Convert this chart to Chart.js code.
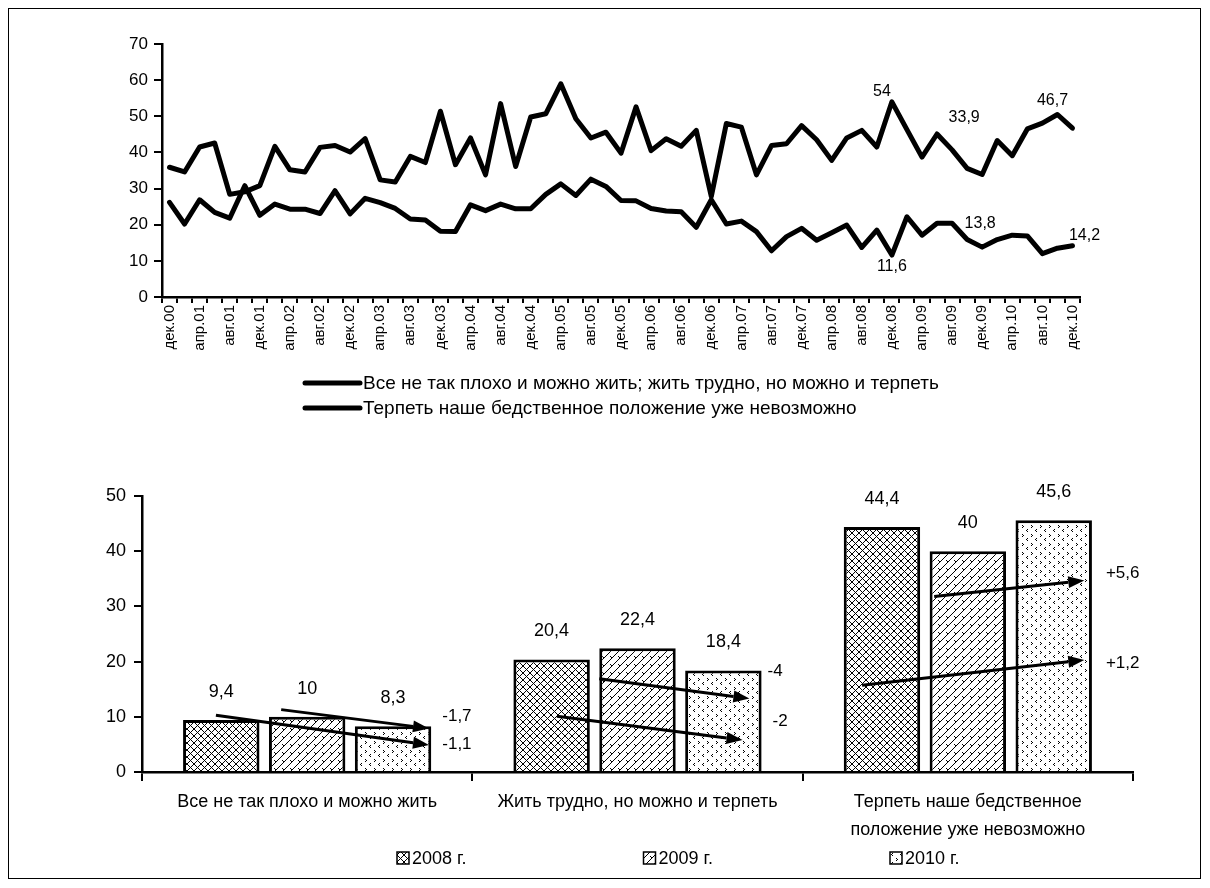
<!DOCTYPE html>
<html>
<head>
<meta charset="utf-8">
<script src="https://cdn.jsdelivr.net/npm/chart.js@4.4.0/dist/chart.umd.min.js"></script>
<style>
    body { margin: 0; background: #fff; }
    #page { position: relative; width: 1210px; height: 888px; background: #fff; }
    #frame { position: absolute; left: 8px; top: 8px; width: 1191px; height: 869px; border: 1px solid #000; }
    #lineBox { position: absolute; left: 80px; top: 26px; width: 1040px; height: 400px; }
    #barBox { position: absolute; left: 40px; top: 470px; width: 1140px; height: 408px; }
</style>
</head>
<body>
<div id="page">
    <div id="frame"></div>
    <div id="lineBox"><canvas id="lineChart"></canvas></div>
    <div id="barBox"><canvas id="barChart"></canvas></div>
</div>
<script>
const FONT = "'Liberation Sans', Arial, sans-serif";
const NARROW = "'Liberation Sans Narrow', 'Liberation Sans', Arial, sans-serif";

// --- top chart: survey every two months, Dec 2000 .. Dec 2010
const months = [
    "дек.00", "фев.01", "апр.01", "июн.01", "авг.01", "окт.01",
    "дек.01", "фев.02", "апр.02", "июн.02", "авг.02", "окт.02",
    "дек.02", "фев.03", "апр.03", "июн.03", "авг.03", "окт.03",
    "дек.03", "фев.04", "апр.04", "июн.04", "авг.04", "окт.04",
    "дек.04", "фев.05", "апр.05", "июн.05", "авг.05", "окт.05",
    "дек.05", "фев.06", "апр.06", "июн.06", "авг.06", "окт.06",
    "дек.06", "фев.07", "апр.07", "июн.07", "авг.07", "окт.07",
    "дек.07", "фев.08", "апр.08", "июн.08", "авг.08", "окт.08",
    "дек.08", "фев.09", "апр.09", "июн.09", "авг.09", "окт.09",
    "дек.09", "фев.10", "апр.10", "июн.10", "авг.10", "окт.10",
    "дек.10"
];

const canLive = [
    35.9, 34.6, 41.5, 42.6, 28.4, 29.1, 30.8, 41.7, 35.2, 34.6,
    41.4, 41.9, 40.1, 43.8, 32.4, 31.8, 38.9, 37.2, 51.4, 36.6,
    44.0, 33.8, 53.5, 36.1, 49.8, 50.7, 59.0, 49.3, 44.0, 45.6,
    39.8, 52.6, 40.5, 43.8, 41.7, 46.1, 27.8, 48.0, 47.0, 33.8,
    41.9, 42.4, 47.4, 43.5, 37.8, 44.0, 46.1, 41.5, 54.0, 46.3,
    38.7, 45.1, 40.7, 35.6, 33.9, 43.3, 39.1, 46.5, 48.1, 50.5,
    46.7
];

const cannotBear = [
    26.2, 20.2, 26.9, 23.4, 21.8, 30.8, 22.6, 25.7, 24.3, 24.3,
    23.1, 29.4, 23.0, 27.3, 26.1, 24.5, 21.6, 21.3, 18.2, 18.1,
    25.5, 23.9, 25.7, 24.4, 24.4, 28.4, 31.3, 28.1, 32.6, 30.6,
    26.7, 26.6, 24.5, 23.8, 23.6, 19.3, 26.9, 20.2, 21.0, 18.1,
    12.8, 16.7, 19.0, 15.7, 17.8, 19.9, 13.7, 18.5, 11.6, 22.2,
    17.1, 20.4, 20.4, 15.9, 13.8, 15.9, 17.1, 16.9, 12.0, 13.5,
    14.2
];

const lineNames = [
    "Все не так плохо и можно жить; жить трудно, но можно и терпеть",
    "Терпеть наше бедственное положение уже невозможно"
];

// --- bottom chart
const groups = [
    "Все не так плохо и можно жить",
    "Жить трудно, но можно и терпеть",
    ["Терпеть наше бедственное", "положение уже невозможно"]
];
const years = ["2008 г.", "2009 г.", "2010 г."];
const bars2008 = [9.4, 20.4, 44.4];
const bars2009 = [10, 22.4, 40];
const bars2010 = [8.3, 18.4, 45.6];

function fmt(v) {
    return String(Math.round(v * 10) / 10).replace(".", ",");
}

function signed(v) {
    const r = Math.round(v * 10) / 10;
    return (r > 0 ? "+" : "") + fmt(r);
}

// where the value callouts of the line chart sit (px offset from the point)
const lineCallouts = [
    { series: 0, index: 48, dx: -10, dy: -10 },
    { series: 1, index: 48, dx: 0, dy: 12 },
    { series: 0, index: 54, dx: -18, dy: -57 },
    { series: 1, index: 54, dx: -2, dy: -24 },
    { series: 0, index: 60, dx: -20, dy: -28 },
    { series: 1, index: 60, dx: 12, dy: -10 }
];

const lineExtras = {
    id: "lineExtras",
    afterDraw(chart) {
        const ctx = chart.ctx;
        const a = chart.chartArea;
        ctx.save();
        ctx.fillStyle = "#000";
        ctx.strokeStyle = "#000";
        ctx.font = "16px " + FONT;
        ctx.textAlign = "center";
        ctx.textBaseline = "middle";
        lineCallouts.forEach(c => {
            const pt = chart.getDatasetMeta(c.series).data[c.index];
            const v = chart.data.datasets[c.series].data[c.index];
            ctx.fillText(fmt(v), pt.x + c.dx, pt.y + c.dy);
        });

        ctx.textAlign = "left";
        ctx.font = "19px " + FONT;
        chart.data.datasets.forEach((ds, i) => {
            const y = a.bottom + 86 + i * 25;
            ctx.lineWidth = 5;
            ctx.lineCap = "round";
            ctx.beginPath();
            ctx.moveTo(a.left + 143, y);
            ctx.lineTo(a.left + 198, y);
            ctx.stroke();
            ctx.fillText(ds.label, a.left + 201, y + 1);
        });
        ctx.restore();
    }
};

new Chart(document.getElementById("lineChart"), {
    type: "line",
    data: {
        labels: months,
        datasets: [
            { label: lineNames[0], data: canLive },
            { label: lineNames[1], data: cannotBear }
        ]
    },
    options: {
        responsive: true,
        maintainAspectRatio: false,
        animation: false,
        layout: { padding: { top: 18, right: 40, bottom: 54, left: 0 } },
        elements: {
            line: { borderColor: "#000", borderWidth: 5, tension: 0, borderJoinStyle: "round", borderCapStyle: "round" },
            point: { radius: 0 }
        },
        plugins: { legend: { display: false }, tooltip: { enabled: false } },
        scales: {
            x: {
                offset: true,
                grid: { offset: true, drawOnChartArea: false, tickLength: 6, color: "#000", lineWidth: 2 },
                border: { color: "#000", width: 2.5 },
                ticks: {
                    autoSkip: false, minRotation: 90, maxRotation: 90, padding: 2,
                    color: "#000", font: { family: FONT, size: 15 },
                    callback: (v, i) => (i % 2 === 0 ? months[i] : "")
                },
                afterFit: s => { s.height = 75; }
            },
            y: {
                min: 0,
                max: 70,
                ticks: { stepSize: 10, color: "#000", font: { family: FONT, size: 17 }, padding: 6 },
                grid: { drawOnChartArea: false, tickLength: 8, color: "#000", lineWidth: 2 },
                border: { color: "#000", width: 2.5 },
                afterFit: s => { s.width = 82; }
            }
        }
    },
    plugins: [lineExtras]
});

// --- hatch fills for the bars
function makeTile(size, draw) {
    const c = document.createElement("canvas");
    c.width = size;
    c.height = size;
    const t = c.getContext("2d");
    t.fillStyle = "#fff";
    t.fillRect(0, 0, size, size);
    t.strokeStyle = "#000";
    t.fillStyle = "#000";
    t.lineWidth = 1;
    draw(t, size);
    return document.createElement("canvas").getContext("2d").createPattern(c, "repeat");
}

const crossFill = makeTile(7, (t, s) => {
    t.beginPath();
    t.moveTo(0, 0); t.lineTo(s, s);
    t.moveTo(s, 0); t.lineTo(0, s);
    t.stroke();
});

const brickFill = makeTile(8, (t, s) => {
    t.beginPath();
    t.moveTo(0, s); t.lineTo(s, 0);
    t.moveTo(-1, 1); t.lineTo(1, -1);
    t.moveTo(s - 1, s + 1); t.lineTo(s + 1, s - 1);
    t.moveTo(2, 2); t.lineTo(4, 4);
    t.stroke();
});

const dotFill = makeTile(9, (t, s) => {
    t.fillRect(1, 1, 1, 1);
    t.fillRect(2, 2, 1, 1);
    t.fillRect(1, 3, 1, 1);
    t.fillRect(6, 5, 1, 1);
    t.fillRect(5, 6, 1, 1);
    t.fillRect(6, 7, 1, 1);
});

// change arrows between years; y values in chart units, x as share of bar width
const changeArrows = [
    { group: 0, from: 0, startX: -0.07, y1: 10.3, endX: 0.47, y2: 4.9, labelY: 5.0, labelDx: 11 },
    { group: 0, from: 1, startX: -0.34, y1: 11.3, endX: 0.47, y2: 7.9, labelY: 10.0, labelDx: 11 },
    { group: 1, from: 0, startX: 0.07, y1: 10.1, endX: 0.25, y2: 5.8, labelY: 9.2, labelDx: 11 },
    { group: 1, from: 1, startX: -0.5, y1: 16.9, endX: 0.34, y2: 13.3, labelY: 18.2, labelDx: 6 },
    { group: 2, from: 0, startX: -0.26, y1: 15.7, endX: 0.4, y2: 20.3, labelY: 19.7, labelDx: 14 },
    { group: 2, from: 1, startX: -0.44, y1: 31.8, endX: 0.4, y2: 34.7, labelY: 36.0, labelDx: 14 }
];

const barExtras = {
    id: "barExtras",
    afterDraw(chart) {
        const ctx = chart.ctx;
        const a = chart.chartArea;
        const yScale = chart.scales.y;
        ctx.save();
        ctx.fillStyle = "#000";
        ctx.strokeStyle = "#000";

        // values above bars
        ctx.font = "18px " + NARROW;
        ctx.textAlign = "center";
        ctx.textBaseline = "middle";
        chart.data.datasets.forEach((ds, i) => {
            chart.getDatasetMeta(i).data.forEach((bar, j) => {
                ctx.fillText(fmt(ds.data[j]), bar.x, bar.y - 28);
            });
        });

        // arrows
        const last = chart.data.datasets.length - 1;
        ctx.font = "17px " + NARROW;
        ctx.textAlign = "left";
        changeArrows.forEach(ar => {
            const fromBar = chart.getDatasetMeta(ar.from).data[ar.group];
            const toBar = chart.getDatasetMeta(last).data[ar.group];
            const x1 = fromBar.x + ar.startX * fromBar.width;
            const x2 = toBar.x + ar.endX * toBar.width;
            const y1 = yScale.getPixelForValue(ar.y1);
            const y2 = yScale.getPixelForValue(ar.y2);
            const ang = Math.atan2(y2 - y1, x2 - x1);
            const headLen = 16, headHalf = 6;
            const bx = x2 - headLen * Math.cos(ang);
            const by = y2 - headLen * Math.sin(ang);
            ctx.lineWidth = 3;
            ctx.beginPath();
            ctx.moveTo(x1, y1);
            ctx.lineTo(bx, by);
            ctx.stroke();
            ctx.beginPath();
            ctx.moveTo(x2, y2);
            ctx.lineTo(bx + headHalf * Math.sin(ang), by - headHalf * Math.cos(ang));
            ctx.lineTo(bx - headHalf * Math.sin(ang), by + headHalf * Math.cos(ang));
            ctx.closePath();
            ctx.fill();

            const d = chart.data.datasets[last].data[ar.group] - chart.data.datasets[ar.from].data[ar.group];
            ctx.fillText(signed(d), toBar.x + toBar.width / 2 + ar.labelDx, yScale.getPixelForValue(ar.labelY));
        });

        // legend
        ctx.font = "18px " + FONT;
        ctx.lineWidth = 1.5;
        chart.data.datasets.forEach((ds, i) => {
            const x = a.left + 255 + i * 246.5;
            const y = a.bottom + 86;
            ctx.fillStyle = ds.backgroundColor;
            ctx.fillRect(x, y - 6, 12, 12);
            ctx.strokeRect(x, y - 6, 12, 12);
            ctx.fillStyle = "#000";
            ctx.fillText(ds.label, x + 15, y + 1);
        });
        ctx.restore();
    }
};

new Chart(document.getElementById("barChart"), {
    type: "bar",
    data: {
        labels: groups,
        datasets: [
            { label: years[0], data: bars2008, backgroundColor: crossFill },
            { label: years[1], data: bars2009, backgroundColor: brickFill },
            { label: years[2], data: bars2010, backgroundColor: dotFill }
        ]
    },
    options: {
        responsive: true,
        maintainAspectRatio: false,
        animation: false,
        layout: { padding: { top: 26, right: 47, bottom: 24, left: 0 } },
        datasets: {
            bar: {
                borderColor: "#000", borderWidth: 3, borderSkipped: "start",
                categoryPercentage: 0.78, barPercentage: 0.89
            }
        },
        plugins: { legend: { display: false }, tooltip: { enabled: false } },
        scales: {
            x: {
                grid: { offset: true, drawOnChartArea: false, tickLength: 9, color: "#000", lineWidth: 2 },
                border: { color: "#000", width: 2.5 },
                ticks: { color: "#000", font: { family: FONT, size: 18, lineHeight: 1.55 }, padding: 7, maxRotation: 0, autoSkip: false },
                afterFit: s => { s.height = 82; }
            },
            y: {
                min: 0,
                max: 50,
                ticks: { stepSize: 10, color: "#000", font: { family: NARROW, size: 18 }, padding: 8 },
                grid: { drawOnChartArea: false, tickLength: 8, color: "#000", lineWidth: 2 },
                border: { color: "#000", width: 2.5 },
                afterFit: s => { s.width = 102; }
            }
        }
    },
    plugins: [barExtras]
});
</script>
</body>
</html>
